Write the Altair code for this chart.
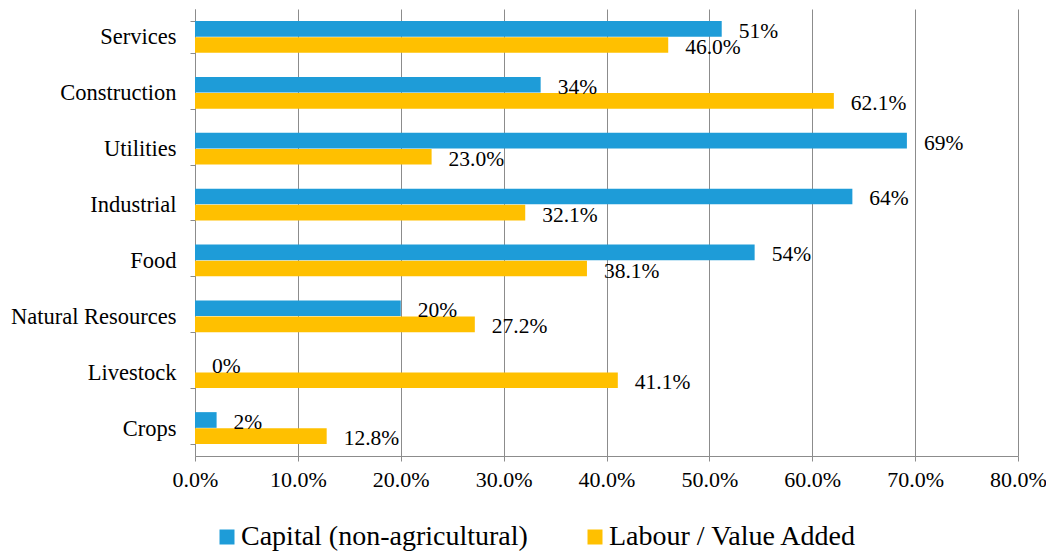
import altair as alt
import pandas as pd

categories = ["Services", "Construction", "Utilities", "Industrial", "Food",
              "Natural Resources", "Livestock", "Crops"]
capital = [51.2, 33.6, 69.2, 63.9, 54.4, 20.0, 0.0, 2.1]
labour = [46.0, 62.1, 23.0, 32.1, 38.1, 27.2, 41.1, 12.8]
series_names = ["Capital (non-agricultural)", "Labour / Value Added"]
x_ticks = [0, 10, 20, 30, 40, 50, 60, 70, 80]

rows = []
for c, v in zip(categories, capital):
    rows.append({"category": c, "series": series_names[0], "value": v, "label": f"{v:.0f}%"})
for c, v in zip(categories, labour):
    rows.append({"category": c, "series": series_names[1], "value": v, "label": f"{v:.1f}%"})
df = pd.DataFrame(rows)

FONT = "Liberation Serif"
GRAY = "#8c8c8c"

y_enc = alt.Y("category:N", sort=categories, title=None,
              scale=alt.Scale(paddingInner=0.43, paddingOuter=0.215),
              axis=alt.Axis(tickBand="extent", labelFontSize=22.5, labelFont=FONT,
                            labelColor="black", labelPadding=14, tickSize=5,
                            tickColor=GRAY, domainColor=GRAY, grid=False))
yoff = alt.YOffset("series:N", sort=series_names, scale=alt.Scale(paddingInner=0.03))
x_enc = alt.X("value:Q", title=None,
              scale=alt.Scale(domain=[0, 80], nice=False),
              axis=alt.Axis(values=x_ticks, labelExpr="format(datum.value, '.1f') + '%'",
                            labelFlush=False,
                            labelFontSize=22, labelFont=FONT, labelColor="black",
                            labelPadding=8, tickSize=5, tickColor=GRAY,
                            domainColor=GRAY, grid=True, gridColor=GRAY,
                            gridWidth=1))

bars = alt.Chart(df).mark_bar().encode(
    y=y_enc, yOffset=yoff, x=x_enc,
    color=alt.Color("series:N", sort=series_names,
                    scale=alt.Scale(domain=series_names, range=["#1E9CD8", "#FFC000"]),
                    legend=alt.Legend(title=None, orient="none", direction="horizontal",
                                      legendX=18, legendY=514, symbolType="square",
                                      symbolSize=225, symbolStrokeWidth=0,
                                      labelFontSize=28, labelFont=FONT, labelColor="black",
                                      labelOffset=0, columnPadding=53, padding=0,
                                      labelLimit=500))
)

labels = alt.Chart(df).mark_text(align="left", baseline="middle", dx=17, dy=3,
                                 fontSize=21.5, font=FONT, color="black").encode(
    y=alt.Y("category:N", sort=categories), yOffset=yoff,
    x=alt.X("value:Q"), text="label:N"
)

chart = alt.layer(bars, labels).properties(
    width=823, height=447,
    autosize=alt.AutoSizeParams(type="none"),
    padding={"left": 187, "top": 1, "right": 28, "bottom": 96}
).configure_view(stroke=None)

chart.save("out.html", embed_options={"renderer": "svg", "actions": False})
